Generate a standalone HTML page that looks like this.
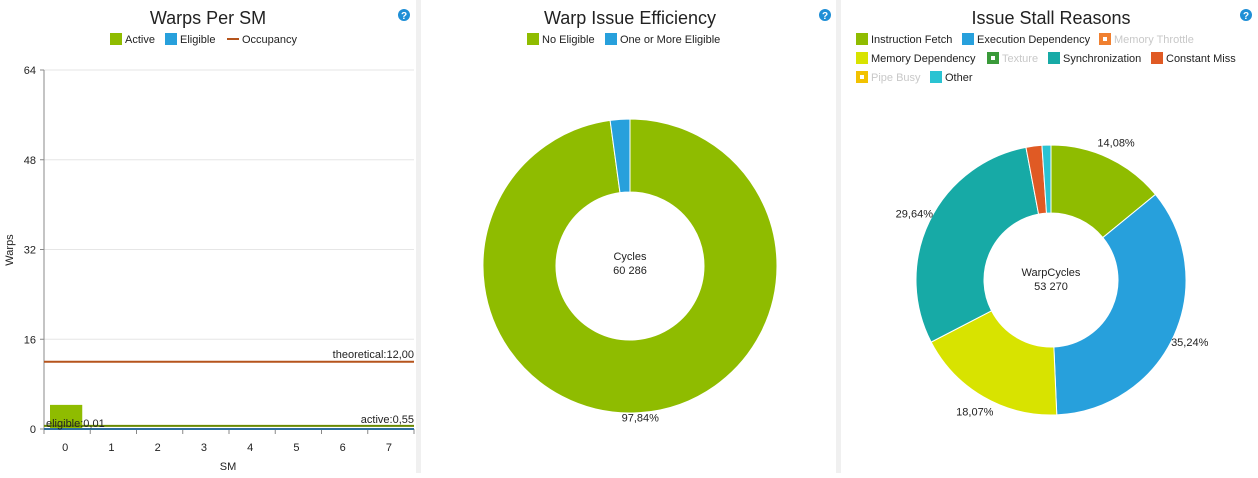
<!DOCTYPE html>
<html><head><meta charset="utf-8"><style>
body{margin:0;background:#fff;font-family:"Liberation Sans",sans-serif;}
svg text{font-family:"Liberation Sans",sans-serif;}
</style></head><body>
<svg width="1258" height="473" id="root">
<rect x="416" y="0" width="5" height="473" fill="#f0f0f0"/>
<rect x="836" y="0" width="5" height="473" fill="#f0f0f0"/>
<g id="left"></g>
<g id="mid"></g>
<g id="right"></g>
</svg>
<script>
const smCategories=["0","1","2","3","4","5","6","7"];
const activeBars=[4.3,0,0,0,0,0,0,0];
const yTicks=[0,16,32,48,64];
const theoretical=12.00, activeAvg=0.55, eligibleAvg=0.01;
const effLabels=["No Eligible","One or More Eligible"];
const effValues=[97.84,2.16];
const effColors=["#8fbc00","#27a0dc"];
const stallLabels=["Instruction Fetch","Execution Dependency","Memory Dependency","Synchronization","Constant Miss","Other"];
const stallValues=[14.08,35.24,18.07,29.64,1.9,1.07];
const stallColors=["#8fbc00","#27a0dc","#d8e300","#17aaa6","#e05a24","#2ac3d2"];
const NS="http://www.w3.org/2000/svg";
function mk(p,t,a,txt){const e=document.createElementNS(NS,t);for(const k in a)e.setAttribute(k,a[k]);if(txt!==undefined)e.textContent=txt;p.appendChild(e);return e;}
function help(p,x){const g=mk(p,'g',{});mk(g,'circle',{cx:x,cy:15,r:6,fill:'#1f8fd6'});mk(g,'text',{x:x,y:19,'font-size':10,'font-weight':'bold',fill:'#fff','text-anchor':'middle'},'?');}
function title(p,x,t){const e=mk(p,'text',{x:x,y:24,'font-size':18,fill:'#222','text-anchor':'middle'},t);}
function legend(p,x,y,color,label,dim){const g=mk(p,'g',{});
 if(label==='Occupancy'){mk(g,'line',{x1:x,y1:y,x2:x+12,y2:y,stroke:color,'stroke-width':2});}
 else{mk(g,'rect',{x:x,y:y-6,width:12,height:12,fill:color});if(dim)mk(g,'rect',{x:x+4,y:y-2,width:4,height:4,fill:'#fff'});}
 mk(g,'text',{x:x+15,y:y+4,'font-size':11,fill:dim?'#c8c8c8':'#222'},label);}
// LEFT
const L=document.getElementById('left');
title(L,208,'Warps Per SM');help(L,404);
legend(L,110,39,'#8fbc00','Active');legend(L,165,39,'#27a0dc','Eligible');legend(L,227,39,'#b5541c','Occupancy');
const x0=44,x1=414,yTop=70,yBot=429,yMax=64;
const ys=v=>yBot-(v/yMax)*(yBot-yTop);
const bw=(x1-x0)/smCategories.length;
const xs=i=>x0+bw*i;
yTicks.forEach(t=>{const g=mk(L,'g',{});
 if(t>0)mk(g,'line',{x1:x0,y1:ys(t),x2:x1,y2:ys(t),stroke:'#e6e6e6'});
 mk(g,'line',{x1:x0-4,y1:ys(t),x2:x0,y2:ys(t),stroke:'#888'});
 mk(g,'text',{x:x0-8,y:ys(t)+4,'font-size':11,fill:'#222','text-anchor':'end'},t);});
mk(L,'line',{x1:x0,y1:yTop,x2:x0,y2:yBot,stroke:'#888'});
const yt=mk(L,'text',{x:13,y:250,'font-size':11,fill:'#222','text-anchor':'middle',transform:'rotate(-90 13 250)'},'Warps');
smCategories.forEach((c,i)=>{
 if(activeBars[i]>0){const r=mk(L,'rect',{x:xs(i)+6,y:ys(activeBars[i]),width:bw-14,height:yBot-ys(activeBars[i]),fill:'#8fbc00'});}
 mk(L,'line',{x1:xs(i),y1:yBot,x2:xs(i),y2:yBot+5,stroke:'#888'});
 const t=mk(L,'text',{x:xs(i)+bw/2-2,y:451,'font-size':11,fill:'#222','text-anchor':'middle'},c);});
mk(L,'line',{x1:x1,y1:yBot,x2:x1,y2:yBot+5,stroke:'#888'});
const xt=mk(L,'text',{x:228,y:470,'font-size':11,fill:'#222','text-anchor':'middle'},'SM');
function hline(v,color,w,name){const l=mk(L,'line',{x1:x0,y1:ys(v),x2:x1,y2:ys(v),stroke:color,'stroke-width':w});}
hline(theoretical,'#b5541c',2,'theoretical-line');hline(activeAvg,'#6a8a00',2,'active-line');hline(eligibleAvg,'#2e6f9e',2,'eligible-line');
mk(L,'text',{x:414,y:358,'font-size':11,fill:'#222','text-anchor':'end'},'theoretical:'+theoretical.toFixed(2).replace('.',','));
mk(L,'text',{x:414,y:423,'font-size':11,fill:'#222','text-anchor':'end'},'active:'+activeAvg.toFixed(2).replace('.',','));
mk(L,'text',{x:46,y:427,'font-size':11,fill:'#222'},'eligible:'+eligibleAvg.toFixed(2).replace('.',','));
// donut
function donut(p,cx,cy,R,r,vals,cols,names,labelFn){const tot=vals.reduce((a,b)=>a+b,0);let a=0;
 vals.forEach((v,i)=>{const a0=a/tot*2*Math.PI,a1=(a+v)/tot*2*Math.PI;a+=v;
  const pt=(rad,an)=>[cx+rad*Math.sin(an),cy-rad*Math.cos(an)];const lg=(a1-a0)>Math.PI?1:0;
  const [p1x,p1y]=pt(R,a0),[p2x,p2y]=pt(R,a1),[p3x,p3y]=pt(r,a1),[p4x,p4y]=pt(r,a0);
  const s=mk(p,'path',{d:`M${p1x},${p1y}A${R},${R} 0 ${lg} 1 ${p2x},${p2y}L${p3x},${p3y}A${r},${r} 0 ${lg} 0 ${p4x},${p4y}Z`,fill:cols[i],stroke:'#fff','stroke-width':1});
  
  labelFn(i,v,(a0+a1)/2,pt);});}
// MID
const M=document.getElementById('mid');
title(M,630,'Warp Issue Efficiency');help(M,825);
legend(M,527,39,effColors[0],effLabels[0]);legend(M,605,39,effColors[1],effLabels[1]);
donut(M,630,266,147,74,effValues,effColors,effLabels,(i,v,am,pt)=>{if(v>5){const [x,y]=pt(152,am);mk(M,'text',{x:x,y:y+4,'font-size':11,fill:'#222','text-anchor':'middle'},v.toFixed(2).replace('.',',')+'%');}});
mk(M,'text',{x:630,y:260,'font-size':11,fill:'#222','text-anchor':'middle'},'Cycles');
mk(M,'text',{x:630,y:274,'font-size':11,fill:'#222','text-anchor':'middle'},'60 286');
// RIGHT
const R=document.getElementById('right');
title(R,1051,'Issue Stall Reasons');help(R,1246);
legend(R,856,39,'#8fbc00','Instruction Fetch');legend(R,962,39,'#27a0dc','Execution Dependency');legend(R,1099,39,'#f08030','Memory Throttle',true);
legend(R,856,58,'#d8e300','Memory Dependency');legend(R,987,58,'#3a9a3a','Texture',true);legend(R,1048,58,'#17aaa6','Synchronization');legend(R,1151,58,'#e05a24','Constant Miss');
legend(R,856,77,'#f2c200','Pipe Busy',true);legend(R,930,77,'#2ac3d2','Other');
donut(R,1051,280,135,67,stallValues,stallColors,stallLabels,(i,v,am,pt)=>{if(v>5){const [x,y]=pt(152,am);mk(R,'text',{x:x,y:y+4,'font-size':11,fill:'#222','text-anchor':'middle'},v.toFixed(2).replace('.',',')+'%');}});
mk(R,'text',{x:1051,y:276,'font-size':11,fill:'#222','text-anchor':'middle'},'WarpCycles');
mk(R,'text',{x:1051,y:290,'font-size':11,fill:'#222','text-anchor':'middle'},'53 270');
</script>
</body></html>
